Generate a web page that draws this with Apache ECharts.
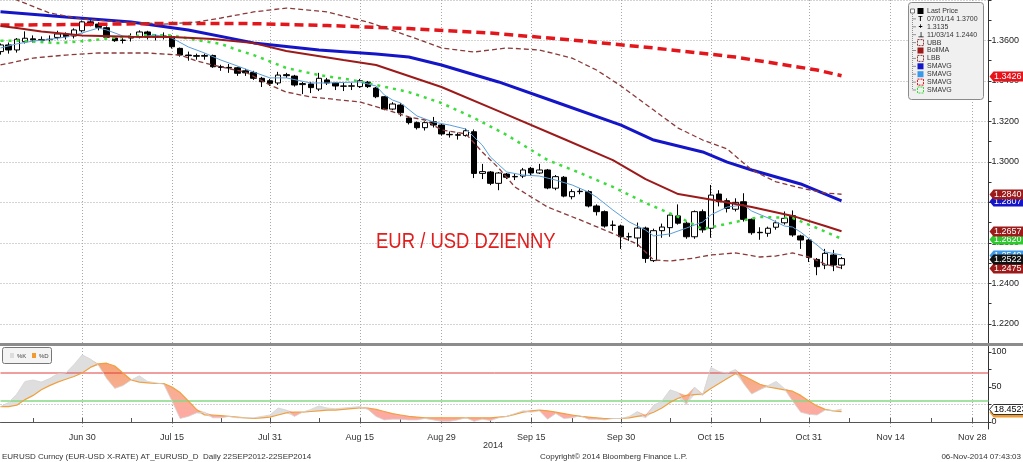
<!DOCTYPE html>
<html><head><meta charset="utf-8">
<script src="https://cdn.jsdelivr.net/npm/echarts@6/dist/echarts.min.js"></script>
<style>html,body{margin:0;padding:0;background:#fff}#c{width:1023px;height:462px}</style>
</head><body><div id="c"></div><script>
// ---------- categories (weekdays) ----------
const categories = [];
(function(){ let d = Date.UTC(2014,5,16); const end = Date.UTC(2014,11,2);
  while (d <= end) { const dt = new Date(d); const wd = dt.getUTCDay();
    if (wd !== 0 && wd !== 6) categories.push(dt.toISOString().slice(0,10)); d += 86400000; } })();
const xLabelDates = ['2014-06-30','2014-07-15','2014-07-31','2014-08-15','2014-08-29','2014-09-15','2014-09-30','2014-10-15','2014-10-31','2014-11-14','2014-11-28'];
const xLabelTexts = ['Jun 30','Jul 15','Jul 31','Aug 15','Aug 29','Sep 15','Sep 30','Oct 15','Oct 31','Nov 14','Nov 28'];
const xMinorTickDates = ['2014-06-20','2014-07-08','2014-07-23','2014-08-08','2014-08-22','2014-09-08','2014-09-22','2014-10-08','2014-10-23','2014-11-07','2014-11-21'];
const yLabelValues = [1.22,1.24,1.26,1.28,1.30,1.32,1.34,1.36];
const stochLabelValues = [0,50,100];
const stochLevels = [70,30];

// ---------- OHLC ----------
const openP = [1.3545,1.3578,1.3553,1.3594,1.3608,1.3600,1.3604,1.3615,1.3632,1.3622,
1.3648,1.3692,1.3681,1.3663,1.3612,1.3600,1.3612,1.3617,1.3642,1.3617,
1.3622,1.3619,1.3561,1.3528,1.3525,1.3522,1.3526,1.3470,1.3467,1.3465,
1.3450,1.3442,1.3413,1.3401,1.3390,1.3431,1.3424,1.3382,1.3385,1.3360,
1.3405,1.3390,1.3375,1.3374,1.3372,1.3394,1.3365,1.3322,1.3261,1.3281,
1.3217,1.3194,1.3169,1.3198,1.3182,1.3136,1.3134,1.3130,1.3149,1.2943,
1.2950,1.2894,1.2940,1.2926,1.2930,1.2968,1.2945,1.2960,1.2870,1.2924,
1.2828,1.2853,1.2853,1.2782,1.2754,1.2686,1.2683,1.2630,1.2624,1.2673,
1.2512,1.2660,1.2675,1.2733,1.2697,1.2630,1.2754,1.2672,1.2841,1.2808,
1.2766,1.2803,1.2716,1.2652,1.2647,1.2677,1.2699,1.2734,1.2634,1.2614,
1.2518,1.2490,1.2540,1.2490];
const closeP = [1.3578,1.3553,1.3606,1.3611,1.3603,1.3605,1.3606,1.3632,1.3619,1.3652,
1.3692,1.3681,1.3665,1.3616,1.3599,1.3602,1.3618,1.3642,1.3617,1.3622,
1.3620,1.3569,1.3528,1.3525,1.3522,1.3526,1.3470,1.3467,1.3464,1.3438,
1.3440,1.3413,1.3396,1.3388,1.3429,1.3426,1.3380,1.3387,1.3367,1.3413,
1.3390,1.3375,1.3374,1.3376,1.3401,1.3372,1.3322,1.3261,1.3286,1.3243,
1.3194,1.3169,1.3194,1.3182,1.3138,1.3134,1.3132,1.3154,1.2943,1.2952,
1.2894,1.2945,1.2924,1.2928,1.2960,1.2945,1.2960,1.2871,1.2927,1.2831,
1.2853,1.2855,1.2782,1.2754,1.2683,1.2688,1.2630,1.2630,1.2673,1.2523,
1.2660,1.2678,1.2737,1.2697,1.2630,1.2754,1.2664,1.2836,1.2803,1.2770,
1.2800,1.2716,1.2650,1.2650,1.2672,1.2699,1.2721,1.2639,1.2614,1.2528,
1.2482,1.2548,1.2490,1.2522];
const lowP = [1.3530,1.3535,1.3540,1.3585,1.3590,1.3590,1.3590,1.3605,1.3605,1.3610,
1.3640,1.3670,1.3650,1.3610,1.3593,1.3585,1.3595,1.3610,1.3605,1.3600,
1.3605,1.3560,1.3520,1.3500,1.3505,1.3505,1.3465,1.3450,1.3440,1.3425,
1.3425,1.3405,1.3370,1.3375,1.3380,1.3415,1.3372,1.3335,1.3340,1.3350,
1.3380,1.3355,1.3350,1.3355,1.3365,1.3365,1.3315,1.3255,1.3255,1.3225,
1.3185,1.3160,1.3155,1.3170,1.3130,1.3120,1.3110,1.3125,1.2920,1.2915,
1.2885,1.2860,1.2915,1.2910,1.2920,1.2930,1.2940,1.2865,1.2860,1.2825,
1.2815,1.2840,1.2775,1.2735,1.2675,1.2660,1.2570,1.2610,1.2580,1.2501,
1.2505,1.2625,1.2630,1.2690,1.2620,1.2620,1.2650,1.2625,1.2780,1.2750,
1.2755,1.2705,1.2640,1.2615,1.2630,1.2665,1.2690,1.2630,1.2570,1.2505,
1.2440,1.2470,1.2460,1.2470];
const highP = [1.3585,1.3590,1.3612,1.3645,1.3625,1.3620,1.3625,1.3648,1.3640,1.3660,
1.3699,1.3700,1.3690,1.3670,1.3618,1.3620,1.3635,1.3650,1.3648,1.3630,
1.3640,1.3625,1.3565,1.3545,1.3535,1.3535,1.3530,1.3480,1.3484,1.3470,
1.3460,1.3450,1.3420,1.3410,1.3445,1.3440,1.3430,1.3395,1.3395,1.3440,
1.3415,1.3395,1.3390,1.3390,1.3410,1.3400,1.3370,1.3325,1.3295,1.3290,
1.3225,1.3200,1.3200,1.3222,1.3190,1.3150,1.3145,1.3165,1.3160,1.2990,
1.2955,1.2950,1.2945,1.2940,1.2970,1.2975,1.2990,1.2965,1.2935,1.2930,
1.2865,1.2870,1.2860,1.2790,1.2760,1.2710,1.2690,1.2650,1.2700,1.2680,
1.2670,1.2695,1.2745,1.2790,1.2705,1.2760,1.2765,1.2886,1.2860,1.2820,
1.2820,1.2845,1.2720,1.2677,1.2680,1.2710,1.2755,1.2760,1.2640,1.2620,
1.2525,1.2570,1.2565,1.2530];

// ---------- overlays: [dayIndex, value] ----------
const smaRed = [[0,1.3676],[10,1.3679],[20,1.3684],[30,1.3684],[40,1.3674],[50,1.3659],[60,1.3637],[70,1.3602],[80,1.3563],[90,1.3518],[100,1.3454],[103,1.3426]];
const smaBlue = [[0,1.3742],[8,1.3716],[16,1.3691],[23,1.3652],[31,1.3588],[39,1.3553],[46,1.3533],[50,1.3518],[54,1.3479],[61,1.3395],[68,1.3296],[76,1.3182],[80,1.3108],[86,1.3049],[89,1.2999],[92,1.2960],[98,1.2891],[103,1.2807]];
const bollMid = [[0,1.3672],[2,1.3662],[5,1.3644],[10,1.3625],[16,1.3619],[21,1.3617],[26,1.3607],[31,1.3587],[35,1.3548],[42,1.3503],[46,1.3479],[54,1.3370],[61,1.3251],[69,1.3113],[75,1.3009],[79,1.2915],[83,1.2841],[88,1.2807],[92,1.2777],[97,1.2733],[101,1.2683],[103,1.2657]];
const smaGreen = [[0,1.3599],[2,1.3599],[7,1.3587],[10,1.3597],[15,1.3617],[18,1.3627],[21,1.3625],[24,1.3602],[27,1.3583],[29,1.3553],[31,1.3528],[35,1.3464],[39,1.3429],[43,1.3405],[46,1.3380],[50,1.3345],[54,1.3291],[58,1.3217],[62,1.3133],[67,1.3009],[71,1.2945],[75,1.2876],[79,1.2797],[83,1.2728],[86,1.2668],[90,1.2703],[93,1.2728],[97,1.2723],[100,1.2673],[103,1.2620]];
const smaLight = [[0,1.3563],[2,1.3583],[4,1.3597],[6,1.3605],[8,1.3617],[10,1.3637],[12,1.3662],[13,1.3652],[15,1.3622],[17,1.3617],[19,1.3627],[21,1.3612],[23,1.3568],[25,1.3538],[27,1.3503],[29,1.3474],[31,1.3444],[33,1.3415],[35,1.3415],[38,1.3390],[40,1.3390],[44,1.3395],[46,1.3375],[47,1.3331],[48,1.3306],[49,1.3291],[51,1.3227],[53,1.3197],[55,1.3182],[57,1.3162],[58,1.3123],[59,1.3083],[60,1.3024],[62,1.2950],[64,1.2935],[66,1.2930],[68,1.2910],[70,1.2886],[72,1.2851],[73,1.2826],[75,1.2762],[77,1.2703],[79,1.2663],[80,1.2634],[82,1.2644],[84,1.2673],[86,1.2703],[87,1.2738],[89,1.2777],[91,1.2787],[92,1.2757],[94,1.2723],[96,1.2683],[97,1.2678],[98,1.2653],[100,1.2589],[101,1.2555],[103,1.2540]];
const ubb = [[0,1.3840],[2,1.3800],[6,1.3736],[10,1.3706],[15,1.3691],[20,1.3681],[24,1.3691],[27,1.3711],[31,1.3741],[35,1.3760],[40,1.3741],[45,1.3691],[50,1.3622],[54,1.3563],[58,1.3543],[62,1.3563],[66,1.3553],[70,1.3513],[73,1.3454],[76,1.3375],[80,1.3256],[83,1.3167],[86,1.3108],[89,1.3064],[92,1.2960],[95,1.2901],[98,1.2871],[101,1.2846],[103,1.2840]];
const lbb = [[0,1.3479],[4,1.3513],[8,1.3528],[12,1.3538],[18,1.3538],[22,1.3528],[24,1.3499],[27,1.3469],[30,1.3444],[33,1.3380],[35,1.3345],[38,1.3321],[44,1.3296],[47,1.3261],[50,1.3222],[52,1.3207],[54,1.3158],[57,1.3138],[59,1.3049],[61,1.2970],[63,1.2876],[67,1.2777],[71,1.2713],[74,1.2663],[76,1.2629],[78,1.2594],[79,1.2555],[80,1.2515],[82,1.2510],[85,1.2525],[87,1.2540],[90,1.2550],[93,1.2530],[95,1.2535],[97,1.2550],[99,1.2530],[101,1.2495],[103,1.2475]];

// ---------- stochastic ----------
const stochK = [22,28,40,58,60,57,62,69,70,82,
96,90,81,62,48,52,60,66,58,56,
54,30,5,8,13,14,6,6,8,6,
6,6,8,10,20,17,8,14,18,23,
20,19,20,21,22,18,8,3,4,4,
3,3,5,3,1,1,3,6,1,4,
2,6,8,12,16,14,16,4,12,5,
6,9,4,4,3,5,5,8,15,6,
24,30,46,42,25,50,38,78,72,70,
75,55,40,46,52,58,48,30,14,11,
10,17,16,18.4523];
const stochD = [22,22,24,32,38,46,52,57,61,65,
70,78,83,84,80,70,60,57,56,55,
55,50,42,30,18,10,10,9,8,7,
6,5,6,7,10,13,14,14,15,16,
17,17,18,19,20,20,18,15,12,10,
8,7,6,6,6,6,6,6,6,6,
6,7,8,11,14,16,17,16,14,12,
10,8,7,6,5,5,5,6,8,10,
14,20,28,34,38,39,40,48,55,62,
69,66,60,54,50,48,46,44,38,30,
23,18,16,14.7];

// ---------- derived for the library ----------
const candleData = openP.map((o,i)=>[o, closeP[i], lowP[i], highP[i]]);
const kdBase = stochK.map((k,i)=>Math.min(k, stochD[i]));
const kdUp = stochK.map((k,i)=>Math.max(k - stochD[i], 0));
const kdDown = stochK.map((k,i)=>Math.max(stochD[i] - k, 0));
const lastOf = a => { const v = a[a.length-1]; return Array.isArray(v) ? v[1] : v; };
const labelMap = {}; xLabelDates.forEach((d,i)=>labelMap[d]=xLabelTexts[i]);
const labelSet = new Set(xLabelDates);
const tickSet = new Set(xLabelDates.concat(xMinorTickDates));
const FONT = 'Liberation Sans';
const CLEAR = 'rgba(0,0,0,0)';

// price tags on the right axis (drawn bottom-first)
const mainTags = [
  {value:lastOf(smaLight), bg:'#3a9ae8'},
  {value:lastOf(smaBlue), bg:'#1515c8'},
  {value:lastOf(smaGreen), bg:'#2fc82f'},
  {value:lastOf(smaRed), bg:'#e8141c'},
  {value:lastOf(ubb), bg:'#9c1a1a'},
  {value:lastOf(bollMid), bg:'#9c1a1a'},
  {value:lastOf(lbb), bg:'#9c1a1a'},
  {value:lastOf(closeP), bg:'#111'}
];
const stochTags = [
  {value:lastOf(stochD), bg:'#f09a30'},
  {value:lastOf(stochK), bg:'#fff', fg:'#000', border:'#333'}
];
function tagSeries(xi, yi, items, z) {
  return {type:'custom', xAxisIndex:xi, yAxisIndex:yi, z, silent:true, animation:false, clip:false,
    data: items.map(t=>[0, t.value]),
    renderItem: (params, api) => {
      const it = items[params.dataIndex];
      const y = Math.round(api.coord([0, api.value(1)])[1]) + 0.5;
      const cs = params.coordSys; const x0 = cs.x + cs.width + 1;
      const h = 10;
      return {type:'group', children:[
        {type:'polygon', shape:{points:[[x0, y],[x0+4, y-h/2],[1024, y-h/2],[1024, y+h/2],[x0+4, y+h/2]]},
         style:{fill:it.bg, stroke:it.border||it.bg, lineWidth:it.border?1:0}},
        {type:'text', x:x0+4.5, y:y+0.5, style:{text:it.value.toFixed(4), fill:it.fg||'#fff', font:'9px "Liberation Sans"', verticalAlign:'middle'}}
      ]};
    }};
}

// ---------- graphic (legend, texts) ----------
const graphic = [];
graphic.push({type:'rect', shape:{x:0,y:343,width:1023,height:3}, style:{fill:'#8c8c8c'}, z:50, silent:true});
graphic.push({type:'text', x:376, y:242, scaleX:0.84, style:{text:'EUR / USD DZIENNY', fill:'#e01e1e', font:'22px "Liberation Sans"', verticalAlign:'middle'}, z:50});
graphic.push({type:'text', x:493, y:446, style:{text:'2014', fill:'#333', font:'9px "Liberation Sans"', align:'center', verticalAlign:'middle'}, z:50});
graphic.push({type:'text', x:2, y:457, style:{text:'EURUSD Curncy (EUR-USD X-RATE) AT_EURUSD_D  Daily 22SEP2012-22SEP2014', fill:'#333', font:'8px "Liberation Sans"', verticalAlign:'middle'}, z:50});
graphic.push({type:'text', x:540, y:457, style:{text:'Copyright\u00a9 2014 Bloomberg Finance L.P.', fill:'#333', font:'8px "Liberation Sans"', verticalAlign:'middle'}, z:50});
graphic.push({type:'text', x:1021, y:457, style:{text:'06-Nov-2014 07:43:03', fill:'#333', font:'8px "Liberation Sans"', align:'right', verticalAlign:'middle'}, z:50});
// main legend
const legendRows = ['Last Price','07/01/14 1.3700','1.3135','11/03/14 1.2440','UBB','BollMA','LBB','SMAVG','SMAVG','SMAVG','SMAVG'];
const legendIcons = [
  {k:'fill',c:'#000'},{k:'glyph',t:'T'},{k:'glyph',t:'+'},{k:'glyph',t:'\u22A5'},
  {k:'dash',c:'#8b3a3a'},{k:'fill',c:'#9c1a1a'},{k:'dash',c:'#8b3a3a'},
  {k:'fill',c:'#1515c8'},{k:'fill',c:'#3a9ae8'},{k:'dash',c:'#e3161b'},{k:'dash',c:'#3ddc3d'}];
graphic.push({type:'rect', shape:{x:908.5,y:2.5,width:75,height:97,r:3}, style:{fill:'#f0f0f0', stroke:'#8a8a8a', lineWidth:1}, z:60});
graphic.push({type:'line', shape:{x1:912.5,y1:14,x2:912.5,y2:90}, style:{stroke:'#777', lineWidth:0.8, lineDash:[1,1]}, z:61});
graphic.push({type:'rect', shape:{x:910.5,y:9,width:4,height:4}, style:{fill:'#fff', stroke:'#555', lineWidth:0.8}, z:62});
legendRows.forEach((t,k)=>{
  const y = 11 + k*7.9;
  if (k>0) graphic.push({type:'line', shape:{x1:912.5,y1:y,x2:916,y2:y}, style:{stroke:'#777', lineWidth:0.8}, z:61});
  const ic = legendIcons[k];
  if (ic.k==='fill') graphic.push({type:'rect', shape:{x:917.5,y:y-3,width:6,height:6}, style:{fill:ic.c}, z:62});
  else if (ic.k==='dash') graphic.push({type:'rect', shape:{x:917.5,y:y-3,width:6,height:6}, style:{fill:'none', stroke:ic.c, lineWidth:1, lineDash:[2,1]}, z:62});
  else graphic.push({type:'text', x:920.5, y:y, style:{text:ic.t, fill:'#000', font:'bold 7px "Liberation Sans"', align:'center', verticalAlign:'middle'}, z:62});
  graphic.push({type:'text', x:927, y:y, style:{text:t, fill:'#333', font:'7px "Liberation Sans"', verticalAlign:'middle'}, z:62});
});
// stochastic legend
graphic.push({type:'rect', shape:{x:2.5,y:347.5,width:49,height:16,r:2}, style:{fill:'#f4f4f4', stroke:'#777', lineWidth:1}, z:60});
graphic.push({type:'rect', shape:{x:10,y:353,width:4,height:5}, style:{fill:'#dcdcdc'}, z:61});
graphic.push({type:'text', x:17, y:356, style:{text:'%K', fill:'#444', font:'6px "Liberation Sans"', verticalAlign:'middle'}, z:61});
graphic.push({type:'rect', shape:{x:32,y:353,width:4,height:5}, style:{fill:'#f09a30'}, z:61});
graphic.push({type:'text', x:39, y:356, style:{text:'%D', fill:'#444', font:'6px "Liberation Sans"', verticalAlign:'middle'}, z:61});

function line(name, data, color, width, type, z) {
  return { name, type:'line', xAxisIndex:0, yAxisIndex:0, data, symbol:'none', showSymbol:false,
    silent:true, animation:false, clip:false, z, lineStyle:{color, width, type} };
}
function level(name, value, color, width) {
  return {name, type:'line', xAxisIndex:1, yAxisIndex:1, symbol:'none', silent:true, animation:false, z:3,
    data:[[categories[0], value], [categories[categories.length-1], value]],
    lineStyle:{color, width, type:'solid'}, itemStyle:{color}};
}

const option = {
  backgroundColor:'#fff', animation:false,
  textStyle:{fontFamily:FONT},
  grid:[
    {left:0.5, right:34.5, top:0, height:344, outerBoundsMode:'none', containLabel:false},
    {left:0.5, right:34.5, top:345, height:84, outerBoundsMode:'none', containLabel:false}
  ],
  xAxis:[
    {type:'category', gridIndex:0, data:categories, boundaryGap:false,
     axisLine:{show:false}, axisTick:{show:false}, axisLabel:{show:false},
     splitLine:{show:true, interval:(i,v)=>labelSet.has(v), lineStyle:{color:'#a8a8a8', type:[1,2]}}},
    {type:'category', gridIndex:1, data:categories, boundaryGap:false,
     axisLine:{show:true, lineStyle:{color:'#555'}},
     axisTick:{show:true, inside:true, length:4, interval:(i,v)=>tickSet.has(v), lineStyle:{color:'#555'}},
     axisLabel:{show:true, interval:(i,v)=>labelSet.has(v), formatter:v=>labelMap[v]||'', fontSize:9, color:'#333', margin:4, fontFamily:FONT},
     splitLine:{show:true, interval:(i,v)=>labelSet.has(v), lineStyle:{color:'#a8a8a8', type:[1,2]}}}
  ],
  yAxis:[
    {type:'value', gridIndex:0, position:'right', min:1.21, max:1.38, interval:0.01,
     axisLine:{show:true, lineStyle:{color:'#333'}}, axisTick:{show:true, length:3, lineStyle:{color:'#333'}},
     axisLabel:{fontSize:9, color:'#222', margin:3, fontFamily:FONT,
       formatter:v=>yLabelValues.some(t=>Math.abs(t-v)<1e-6)?v.toFixed(4):''},
     splitLine:{show:true, lineStyle:{color:[CLEAR,'#a8a8a8'], type:[1,2]}}},
    {type:'value', gridIndex:1, position:'right', min:-10, max:110, interval:10,
     axisLine:{show:true, lineStyle:{color:'#333'}}, axisTick:{show:true, length:3, customValues:[0,25,50,75,100], lineStyle:{color:'#333'}},
     axisLabel:{fontSize:9, color:'#222', margin:3, fontFamily:FONT,
       formatter:v=>stochLabelValues.some(t=>Math.abs(t-v)<1e-6)?String(Math.round(v)):''},
     splitLine:{show:true, lineStyle:{color:[CLEAR,'#a8a8a8',CLEAR,CLEAR,CLEAR], type:[1,2]}}}
  ],
  graphic: graphic,
  series:[
    {name:'Last Price', type:'candlestick', xAxisIndex:0, yAxisIndex:0, data:candleData, barWidth:6, z:2,
     silent:true, animation:false,
     itemStyle:{color:'#fff', color0:'#000', borderColor:'#000', borderColor0:'#000', borderWidth:1}},
    line('SMAVG green', smaGreen, '#3ddc3d', 2.5, [3,5], 3),
    line('SMAVG light', smaLight, '#5a9fd8', 1, 'solid', 3),
    line('SMAVG blue', smaBlue, '#1515c8', 3, 'solid', 3),
    line('SMAVG red', smaRed, '#e3161b', 3.5, [9,5], 4),
    line('LBB', lbb, '#8b3a3a', 1.3, [5,3], 5),
    line('UBB', ubb, '#8b3a3a', 1.3, [5,3], 5),
    line('BollMA', bollMid, '#9c1a1a', 2, 'solid', 5),
    tagSeries(0, 0, mainTags, 20),
    // stochastic
    {name:'kdBase', type:'line', xAxisIndex:1, yAxisIndex:1, data:kdBase, stack:'kd', symbol:'none', silent:true, animation:false,
     lineStyle:{color:CLEAR, width:0}, z:2},
    {name:'kdUp', type:'line', xAxisIndex:1, yAxisIndex:1, data:kdUp, stack:'kd', symbol:'none', silent:true, animation:false,
     lineStyle:{color:CLEAR, width:0}, areaStyle:{color:'#dedede', opacity:1}, z:2},
    {name:'kdDown', type:'line', xAxisIndex:1, yAxisIndex:1, data:kdDown, stack:'kd', symbol:'none', silent:true, animation:false,
     lineStyle:{color:CLEAR, width:0}, z:2,
     areaStyle:{opacity:1, color:{type:'linear', x:0, y:350, x2:0, y2:425, global:true,
       colorStops:[{offset:0,color:'#f5a06a'},{offset:0.5,color:'#f7ae90'},{offset:1,color:'#ffa9a9'}]}}},
    level('level70', stochLevels[0], '#e03c3c', 1),
    level('level30', stochLevels[1], '#86d886', 1.5),
    {name:'%D', type:'line', xAxisIndex:1, yAxisIndex:1, data:stochD, symbol:'none', silent:true, animation:false, clip:false,
     lineStyle:{color:'#f0a040', width:1.2}, z:5},
    {name:'%K', type:'line', xAxisIndex:1, yAxisIndex:1, data:stochK, symbol:'none', silent:true, animation:false, clip:false,
     lineStyle:{color:'#d4d4d4', width:0.8}, z:6},
    tagSeries(1, 1, stochTags, 20)
  ]
};
const chart = echarts.init(document.getElementById('c'), null, {renderer:'canvas'});
chart.setOption(option);
</script></body></html>
